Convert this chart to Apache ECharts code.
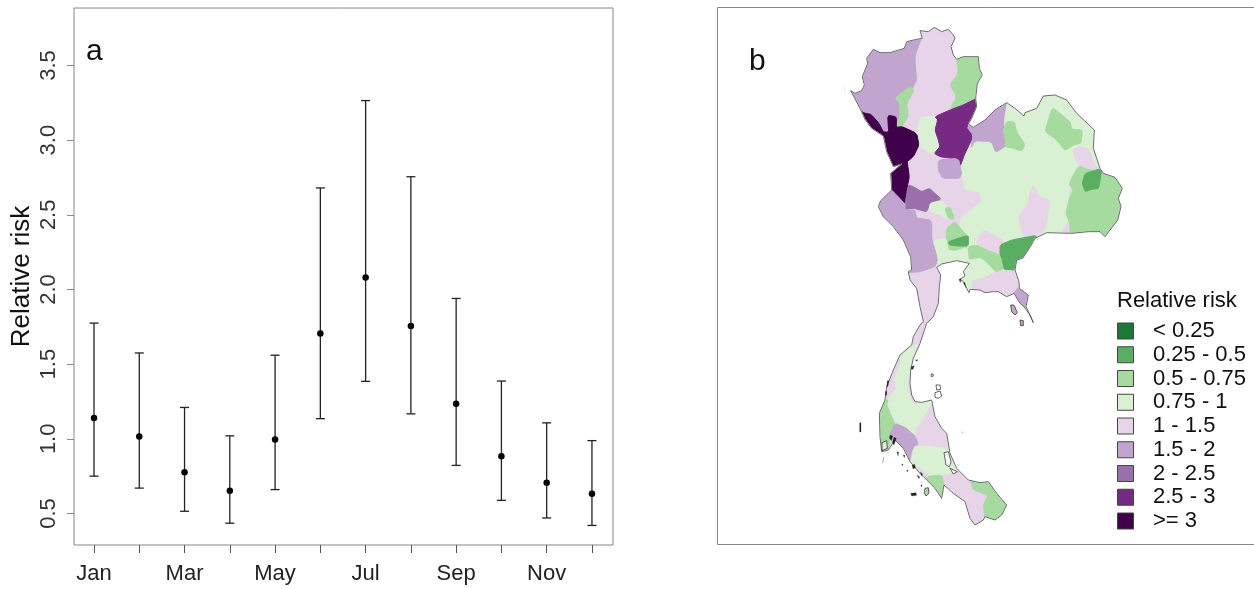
<!DOCTYPE html>
<html><head><meta charset="utf-8">
<style>html,body{margin:0;padding:0;background:#fff}#c{width:1254px;height:589px}</style>
<script src="https://cdn.jsdelivr.net/npm/echarts@6/dist/echarts.min.js"></script>
</head><body><div id="c"></div>
<script>
// ---- panel a data
const months = ['Jan','Feb','Mar','Apr','May','Jun','Jul','Aug','Sep','Oct','Nov','Dec'];
const meanRisk = [1.14,1.015,0.777,0.653,0.995,1.705,2.08,1.755,1.235,0.883,0.706,0.633];
const upperRisk = [1.775,1.575,1.21,1.02,1.56,2.68,3.265,2.755,1.94,1.387,1.107,0.988];
const lowerRisk = [0.75,0.67,0.515,0.435,0.66,1.135,1.385,1.167,0.822,0.588,0.47,0.42];
const yTicks = [0.5,1,1.5,2,2.5,3,3.5];
// ---- panel b legend
const classLabels = ['< 0.25','0.25 - 0.5','0.5 - 0.75','0.75 - 1','1 - 1.5','1.5 - 2','2 - 2.5','2.5 - 3','>= 3'];
const classColors = ['#1b7837','#5aae61','#a6dba0','#d9f0d3','#e7d4e8','#c2a5cf','#9970ab','#762a83','#40004b'];
// ---- panel b map geometry, traced on four map sheets: [name, risk class, sheet, ring]
const sheets = {A:[845,20],B:[975,90],C:[870,160],D:[870,320]};
const regionShapes = [
['NE plain',3,'C',[270,20,309,-75,330,-100,400,-180,410,-180,525,-205,605,-190,680,-90,675,-30,695,30,600,50,590,210,490,240,400,250,340,260,295,260,265,180,335,125,330,95,285,90]],
['Upper west',5,'A',[0,200,40,100,90,70,180,70,230,40,232,55,212,110,218,180,205,205,185,250,190,290,170,320,150,325,150,292,132,290,135,320,115,340,100,310,75,285,57,290,45,260,0,220]],
['Upper north',4,'A',[232,55,225,15,330,15,340,60,335,118,340,160,315,195,335,230,315,270,270,290,245,290,225,295,215,340,172,320,190,290,185,250,205,205,218,180,212,110]],
['Upper northeast',2,'A',[335,118,355,100,410,100,420,165,405,195,395,235,355,255,315,270,335,230,315,195,340,160]],
['North island',2,'A',[150,235,195,200,208,210,185,250,190,290,170,320,150,325,165,290,165,250]],
['Lower north',3,'A',[225,295,245,290,270,290,278,300,270,330,280,360,285,380,270,400,250,400,220,372,215,340]],
['Central north',7,'A',[270,290,315,270,355,255,395,235,400,260,380,300,365,318,385,345,375,370,360,400,345,440,320,415,285,410,268,400,285,380,280,360,270,330,278,300]],
['West border',8,'A',[30,265,60,280,78,283,102,310,115,336,131,336,128,286,154,290,154,322,172,320,215,340,222,375,205,410,180,430,155,450,120,450,95,375,65,345,30,305]],
['West border south',8,'C',[55,85,55,30,110,-5,118,50,112,80,105,132,85,110]],
['Northeast rim',5,'B',[-25,110,30,80,60,55,95,30,85,95,92,150,90,170,62,187,50,155,0,152,-12,175,-6,135]],
['Northeast patch',2,'B',[95,95,118,95,125,125,150,165,140,183,115,175,90,170,92,150,85,120]],
['Northeast lobe',2,'B',[232,53,255,70,285,95,290,118,322,120,318,160,295,165,270,182,245,150,210,125,220,90]],
['East pink',4,'B',[292,178,325,170,345,185,355,220,375,240,345,240,310,225]],
['East lobe',2,'B',[310,228,345,240,385,245,425,262,450,295,440,350,435,395,390,445,340,435,285,435,285,400,272,370,285,320,295,300,282,280]],
['East core',1,'B',[330,250,380,235,372,295,350,298,330,305,322,280]],
['Southern Isan',4,'B',[175,285,190,320,225,330,210,425,150,445,140,420,130,380,160,340,165,310]],
['Central patch',5,'C',[205,0,265,-5,275,40,268,55,218,55,205,30]],
['West central',6,'C',[115,75,130,80,155,95,178,85,195,100,212,115,205,125,180,130,170,155,150,150,130,145,105,148,105,132]],
['Central strip',3,'C',[180,130,210,122,225,130,250,175,235,178,205,162,180,155]],
['Central spot',2,'C',[225,145,240,142,250,165,250,180,235,175]],
['Western',5,'C',[60,85,105,132,105,150,135,150,140,175,185,180,185,240,205,295,195,320,150,335,110,338,100,300,50,215,10,150,10,120]],
['Bangkok north',2,'C',[255,185,280,215,295,230,290,265,255,275,235,270,228,235,230,205]],
['Bangkok core',1,'C',[235,245,295,225,295,258,260,258,238,255]],
['Bangkok south',3,'C',[190,240,228,235,235,270,255,275,290,262,295,300,300,320,250,320,200,335,205,295]],
['Prachin',4,'C',[345,210,405,245,390,265,390,280,345,265,320,255,325,230]],
['Sa Kaeo',1,'C',[390,255,425,240,505,225,478,270,460,300,445,305,435,330,400,328,390,285]],
['Chachoengsao',2,'C',[295,260,320,255,345,268,390,285,400,328,375,335,335,295,298,300]],
['Chonburi',3,'C',[298,300,335,295,375,335,345,350,305,360,305,400,265,375,280,310]],
['Trat',5,'C',[448,380,485,405,480,445,450,440,425,425,430,400]],
['Chumphon Surat',3,'D',[125,78,155,70,135,110,110,200,130,255,195,232,170,275,160,295,135,330,135,348,105,322,75,310,65,290,50,255,55,235,80,205,72,180,95,125,85,105]],
['Phang Nga',2,'D',[20,260,45,240,55,240,50,255,65,290,75,310,70,340,60,350,55,400,20,405,15,340]],
['Krabi',5,'D',[75,310,105,322,135,348,145,375,128,395,120,435,95,405,72,370,60,345]],
['Phatthalung',3,'D',[135,378,170,378,225,385,245,400,270,450,215,465,175,465,150,440,120,435,128,395]],
['Trang',2,'D',[170,470,215,465,222,495,225,545,200,535,165,490]],
['Narathiwat',2,'D',[300,480,330,475,360,475,425,555,395,595,375,610,345,595,340,555,355,525,310,510]]
];
// coast outline, section by section around the country; the land under the regions is class 1 - 1.5
const landClass = 4;
const coastSections = [
['A',[17,212,30,220,50,212,58,195,52,170,68,130,65,115,85,88,105,98,135,98,178,85,185,65,215,58,232,55,225,32,250,35,268,22,290,35,310,28,325,45,330,55,318,80,325,105,335,118,355,110,400,110,403,145,412,165,397,190,392,235,395,260,380,295,370,312,385,322,420,300,450,270]],
['B',[95,38,120,55,147,78,150,68,185,55,205,18,240,15,275,30,305,70,358,120,355,175,375,235,385,250,420,262,442,295,430,325,438,350,428,390,390,440,375,425,340,425,290,430,215,428]],
['C',[495,235,478,265,458,295,440,300,435,330,447,365,448,385,475,405,468,440,490,488,480,465,462,440,450,430,432,400,410,410,385,395,370,395,345,398,330,390,300,388,297,398,290,385,280,365,270,358,285,348,280,335,298,310,260,302,215,312,200,322,212,345,208,380,205,430,190,470,170,490]],
['D',[160,40,150,70,130,115,122,150,120,190,125,225,135,245,155,247,185,240,195,290,215,325,230,340,240,400,260,445,295,480,330,488,355,485,380,520,410,555,395,585,375,600,345,590,340,600,315,615,300,595,285,545,250,520,222,495,215,535,195,505,170,480,150,460,120,425,100,385,75,360,55,390,35,395,30,350,28,280,45,240,50,200,70,150,90,105,125,75,130,50,150,15]],
['C',[160,485,150,440,140,385,120,360,115,335,125,330,122,290,100,240,70,200,40,170,25,140,32,122,65,90,62,40,95,12]],
['A',[145,440,125,395,115,348,80,325,60,298,45,265]]
];
// islands: [name, fill colour, sheet, ring]
const islands = [
['Samui','#fff','D',[195,218,210,213,215,228,205,235,195,232]],
['Pha Ngan','#fff','D',[198,195,210,195,212,208,200,210]],
['Tao','#fff','D',[183,162,189,162,190,168,184,170]],
['Phuket','#a6dba0','D',[165,505,175,503,177,520,168,528,163,518]],
['Songkhla lake','#fff','D',[222,398,235,395,243,425,238,440,228,435]],
['Lake mouth','#fff','D',[240,445,262,455,250,462]],
['Yao','#d9f0d3','D',[36,368,50,362,52,385,36,392]],
['Chang','#c2a5cf','C',[422,435,432,435,442,458,435,465,425,455]],
['Kut','#c2a5cf','C',[450,480,460,482,460,497,452,497]]
];
const specks = [
['Surin','D',[-31,308,-27,308,-27,336,-31,336]],
['Lanta','D',[122,520,138,518,140,526,125,528]],
['Krabi isles','D',[60,345,68,348,64,362,58,355]],
['Krabi isles 2','D',[72,352,79,355,72,375,67,368]],
['Ranong isles','D',[52,182,57,182,54,198,50,202]],
['Ranong isles 2','D',[46,215,50,213,50,225,46,227]],
['Chumphon isles','D',[124,140,133,137,129,148,124,148]],
['Chumphon isles 2','D',[136,120,143,119,141,124]],
['Trang isles','D',[81,396,86,396,84,408,81,408]],
['Trang isles 2','D',[100,405,104,405,103,414]],
['Trang isles 3','D',[41,411,44,414,38,430]],
['Trang isles 4','D',[126,436,134,433,136,444,129,446]],
['Trang isles 5','D',[151,456,158,462,154,468]],
['Trang isles 6','D',[141,466,149,470,147,476]],
['Trang isles 7','D',[95,432,99,432,97,437]],
['Trang isles 8','D',[110,450,114,450,112,456]],
['Trang isles 9','D',[152,495,156,495,155,501]],
['Tiny','D',[275,335,278,335,278,340,275,340]],
['Gulf isles','C',[267,358,273,356,271,368]],
['Gulf isles 2','C',[281,370,284,366,288,383]]
];
const maskBox = [845,22,1127,530];
const cornerCut = 0.14;

const toPixel = (sheet, x, y) => [sheets[sheet][0] + x / 3, -(sheets[sheet][1] + y / 3)];
const pts = (sheet, flat) => {
  const r = [];
  for (let i = 0; i < flat.length; i += 2) r.push(toPixel(sheet, flat[i], flat[i + 1]));
  return r;
};
const closed = r => r.concat([r[0]]);
// softens the corners of a hand-traced boundary
const roundCorners = r => {
  const out = [], c = cornerCut;
  r.forEach((p, i) => {
    const q = r[(i + 1) % r.length];
    out.push([p[0]*(1-c)+q[0]*c, p[1]*(1-c)+q[1]*c], [p[0]*c+q[0]*(1-c), p[1]*c+q[1]*(1-c)]);
  });
  return out;
};
const feature = (name, ring) => ({type:'Feature',properties:{name},geometry:{type:'Polygon',coordinates:[ring]}});
const features = [], mapData = [];
const coast = [];
coastSections.forEach(([sheet, flat]) => coast.push(...pts(sheet, flat)));
features.push(feature('Land', closed(coast)));
mapData.push({name:'Land', itemStyle:{areaColor:classColors[landClass], borderColor:classColors[landClass], borderWidth:0}});
regionShapes.forEach(([name, cls, sheet, flat]) => {
  features.push(feature(name, closed(roundCorners(pts(sheet, flat)))));
  mapData.push({name, value: cls, itemStyle:{areaColor: classColors[cls], borderColor: classColors[cls], borderWidth: 1}});
});
// white sea: box with the coast as a bridged hole, so fills end exactly at the coast
const anchor = coast[0];
const [boxL, boxT, boxR, boxB] = maskBox;
const seam = [anchor[0], -boxT];
const seaRing = [seam,[boxR,-boxT],[boxR,-boxB],[boxL,-boxB],[boxL,-boxT],seam,anchor,...coast.slice().reverse(),anchor,seam];
features.push(feature('Sea', seaRing));
mapData.push({name:'Sea', itemStyle:{areaColor:'#fff', borderColor:'#fff', borderWidth:1}});
features.push(feature('Coast', closed(coast)));
mapData.push({name:'Coast', itemStyle:{areaColor:'rgba(0,0,0,0)', borderColor:'#444', borderWidth:0.8}});
islands.forEach(([name, fill, sheet, flat]) => {
  features.push(feature(name, closed(pts(sheet, flat))));
  mapData.push({name, itemStyle:{areaColor:fill, borderColor:'#222', borderWidth:0.7}});
});
specks.forEach(([name, sheet, flat]) => {
  features.push(feature(name, closed(pts(sheet, flat))));
  mapData.push({name, itemStyle:{areaColor:'#222', borderColor:'#222', borderWidth:0.2}});
});
echarts.registerMap('thailand', {type:'FeatureCollection',features});

let minX=1e9,maxX=-1e9,minY=1e9,maxY=-1e9;
features.forEach(f=>f.geometry.coordinates[0].forEach(([x,y])=>{
  minX=Math.min(minX,x);maxX=Math.max(maxX,x);minY=Math.min(minY,-y);maxY=Math.max(maxY,-y);
}));

const FONT = '"Liberation Sans", Arial, sans-serif';
const legendGraphics = [
  {type:'text',x:1117,y:301,z:10,style:{text:'Relative risk',font:'22px '+FONT,fill:'#111',verticalAlign:'middle'}}
];
classLabels.forEach((t,i)=>{
  const y = 331 + i*23.75;
  legendGraphics.push({type:'rect',z:10,shape:{x:1117.5,y:y-8,width:16,height:16},style:{fill:classColors[i],stroke:'#444',lineWidth:1}});
  legendGraphics.push({type:'text',z:10,x:1153,y:y,style:{text:t,font:'22px '+FONT,fill:'#111',verticalAlign:'middle'}});
});

const chart = echarts.init(document.getElementById('c'));
chart.setOption({
  animation:false,
  backgroundColor:'#fff',
  textStyle:{fontFamily:FONT},
  grid:{left:74,top:8,width:539,height:537,show:true,borderColor:'#888',borderWidth:1,backgroundColor:'transparent'},
  xAxis:{type:'value',min:0.558,max:12.465,
    axisLine:{show:false},splitLine:{show:false},
    axisTick:{show:true,length:8,lineStyle:{color:'#555',width:1},customValues:months.map((m,i)=>i+1)},
    axisLabel:{fontSize:22,color:'#222',margin:18,customValues:[1,3,5,7,9,11],formatter:v=>months[Math.round(v)-1]||''}},
  yAxis:{type:'value',min:0.289,max:3.885,
    name:'Relative risk',nameLocation:'middle',nameGap:39,nameRotate:90,nameTextStyle:{fontSize:26,color:'#111'},
    axisLine:{show:false},splitLine:{show:false},
    axisTick:{show:true,length:7,lineStyle:{color:'#888',width:1},customValues:yTicks},
    axisLabel:{fontSize:22,color:'#333',rotate:90,margin:14,customValues:yTicks,formatter:v=>v.toFixed(1)}},
  series:[
    {type:'custom',name:'95% CI',silent:true,coordinateSystem:'cartesian2d',
     data:months.map((m,i)=>[i+1,lowerRisk[i],upperRisk[i]]),
     encode:{x:0,y:[1,2]},
     renderItem:(params,api)=>{
       const lo=api.coord([api.value(0),api.value(1)]);
       const hi=api.coord([api.value(0),api.value(2)]);
       const s={stroke:'#222',lineWidth:1.3,fill:'none'};
       return {type:'group',children:[
         {type:'line',shape:{x1:lo[0],y1:lo[1],x2:hi[0],y2:hi[1]},style:s},
         {type:'line',shape:{x1:lo[0]-4.5,y1:lo[1],x2:lo[0]+4.5,y2:lo[1]},style:s},
         {type:'line',shape:{x1:hi[0]-4.5,y1:hi[1],x2:hi[0]+4.5,y2:hi[1]},style:s}
       ]};
     }},
    {type:'scatter',name:'Relative risk',silent:true,symbolSize:6.5,itemStyle:{color:'#000',opacity:1},
     data:months.map((m,i)=>[i+1,meanRisk[i]]),z:5},
    {type:'map',map:'thailand',silent:true,roam:false,aspectScale:1,
     left:minX,top:minY,width:maxX-minX,height:maxY-minY,
     label:{show:false},emphasis:{disabled:true},select:{disabled:true},selectedMode:false,
     data:mapData}
  ],
  graphic:{elements:[
    {type:'rect',shape:{x:717.5,y:7.5,width:560,height:537},style:{fill:'none',stroke:'#888',lineWidth:1},z:-1},
    {type:'text',z:10,x:86,y:37,style:{text:'a',font:'30px '+FONT,fill:'#111'}},
    {type:'text',z:10,x:749,y:47,style:{text:'b',font:'30px '+FONT,fill:'#111'}},
    ...legendGraphics
  ]}
});
</script></body></html>
